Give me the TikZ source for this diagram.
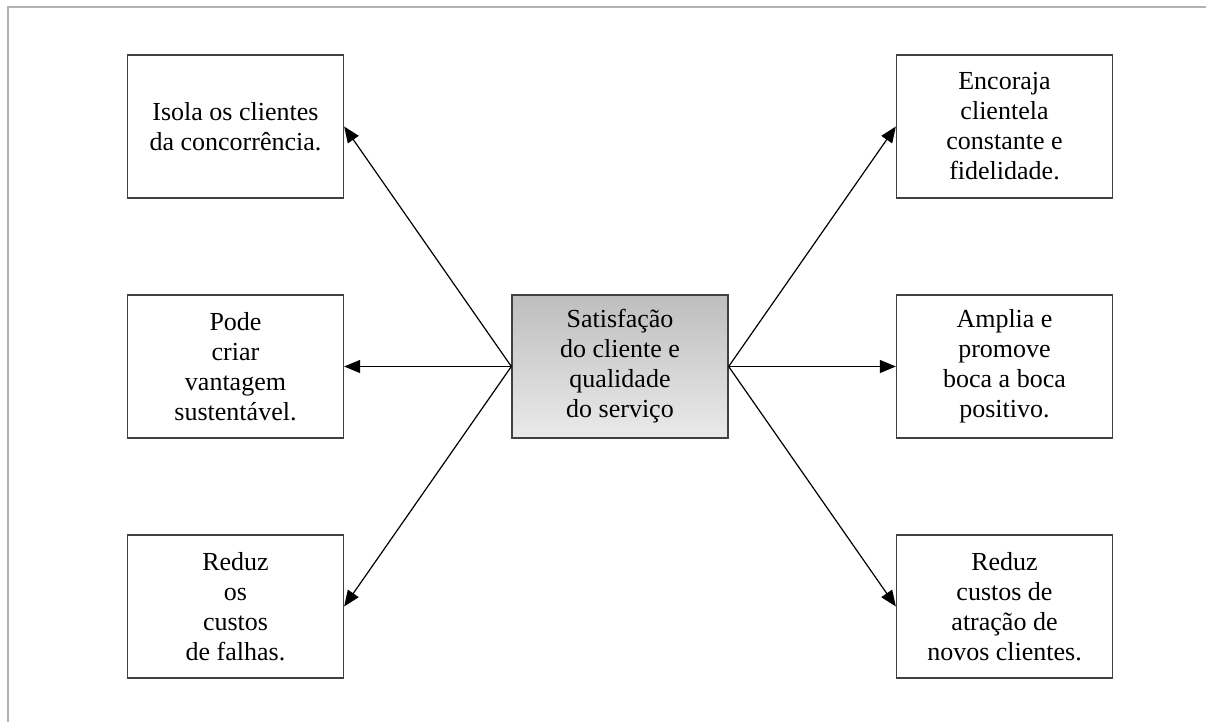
\documentclass[tikz,border=0pt]{standalone}
\usepackage{fontspec}
\setmainfont{Liberation Serif}
\usetikzlibrary{arrows.meta}
\definecolor{framegray}{RGB}{178,178,178}
\definecolor{boxedge}{RGB}{64,64,64}
\definecolor{shadetop}{RGB}{190,190,190}
\definecolor{shadebot}{RGB}{234,234,234}
\tikzset{
  infobox/.style={draw=boxedge, line width=1.3pt, fill=white,
    minimum width=216pt, minimum height=143pt, inner sep=0pt,
    align=center, font=\fontsize{26}{30}\selectfont},
  corebox/.style={infobox, fill=none, top color=shadetop, bottom color=shadebot},
  link/.style={draw=black, line width=1.2pt,
    -{Triangle[length=16pt,width=13pt]}}
}
\begin{document}
\begin{tikzpicture}[x=1pt,y=-1pt]
  \useasboundingbox (0,0) rectangle (1206,722);
  % page frame
  \draw[framegray, line width=2pt] (7.5,722) -- (7.5,7) -- (1206,7);

  % central box
  \node[corebox] (core) at (620,366.5) {Satisfação\\do cliente e\\qualidade\\do serviço};

  % left column
  \node[infobox] (tl) at (235.5,126.5) {Isola os clientes\\da concorrência.};
  \node[infobox] (ml) at (235.5,366.5) {Pode\\criar\\vantagem\\sustentável.};
  \node[infobox] (bl) at (235.5,606.5) {Reduz\\os\\custos\\de falhas.};

  % right column
  \node[infobox] (tr) at (1004.5,126.5) {Encoraja\\clientela\\constante e\\fidelidade.};
  \node[infobox] (mr) at (1004.5,366.5) {Amplia e\\promove\\boca a boca\\positivo.};
  \node[infobox] (br) at (1004.5,606.5) {Reduz\\custos de\\atração de\\novos clientes.};

  % connectors
  \draw[link] (core.west) -- (tl.east);
  \draw[link] (core.west) -- (ml.east);
  \draw[link] (core.west) -- (bl.east);
  \draw[link] (core.east) -- (tr.west);
  \draw[link] (core.east) -- (mr.west);
  \draw[link] (core.east) -- (br.west);
\end{tikzpicture}
\end{document}
